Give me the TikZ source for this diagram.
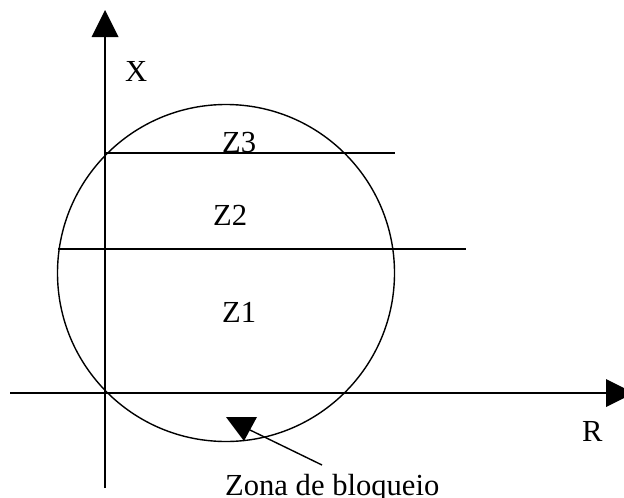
\documentclass[tikz,border=0pt]{standalone}
\usepackage{fontspec}
\setmainfont{Liberation Serif}
\begin{document}
\begin{tikzpicture}[x=1pt,y=-1pt,
  lbl/.style={inner sep=0pt,anchor=base west,font=\fontsize{30.6}{36}\selectfont},
  axis/.style={line width=1.8pt},
  thin/.style={line width=1.4pt},
  tipfill/.style={fill=black,draw=none}]
\useasboundingbox (0,0) rectangle (624,498);
\clip (0,0) rectangle (624,498);
% axes
\coordinate (vb) at (105,488);
\coordinate (vt) at (105,36);
\coordinate (hl) at (10,393);
\coordinate (hr) at (607,393);
\draw[axis] (vb) -- (vt);
\draw[axis] (hl) -- (hr);
\fill[tipfill] (105,10) -- (91.5,37) -- (118.5,37) -- cycle;
\fill[tipfill] (634,393) -- (606,379) -- (606,407) -- cycle;
% circle
\node[draw,thin,circle,minimum size=337pt,inner sep=0pt] (c) at (226,273) {};
% zone lines
\coordinate (a1) at (105,153);
\coordinate (a2) at (395,153);
\coordinate (b1) at (58,249);
\coordinate (b2) at (466,249);
\draw[thin] (a1) -- (a2);
\draw[thin] (b1) -- (b2);
% labels
\node[lbl] (X) at (125,81) {X};
\node[lbl] (Z3) at (222,152) {Z3};
\node[lbl] (Z2) at (213,225) {Z2};
\node[lbl] (Z1) at (222,322) {Z1};
\node[lbl] (R) at (582,441) {R};
\node[lbl] (zona) at (225,495) {Zona de bloqueio};
% blocking zone marker
\fill[tipfill] (226,417) -- (257,417) -- (244,441) -- cycle;
\coordinate (p1) at (250,430);
\coordinate (p2) at (322,465);
\draw[thin] (p1) -- (p2);
\end{tikzpicture}
\end{document}
